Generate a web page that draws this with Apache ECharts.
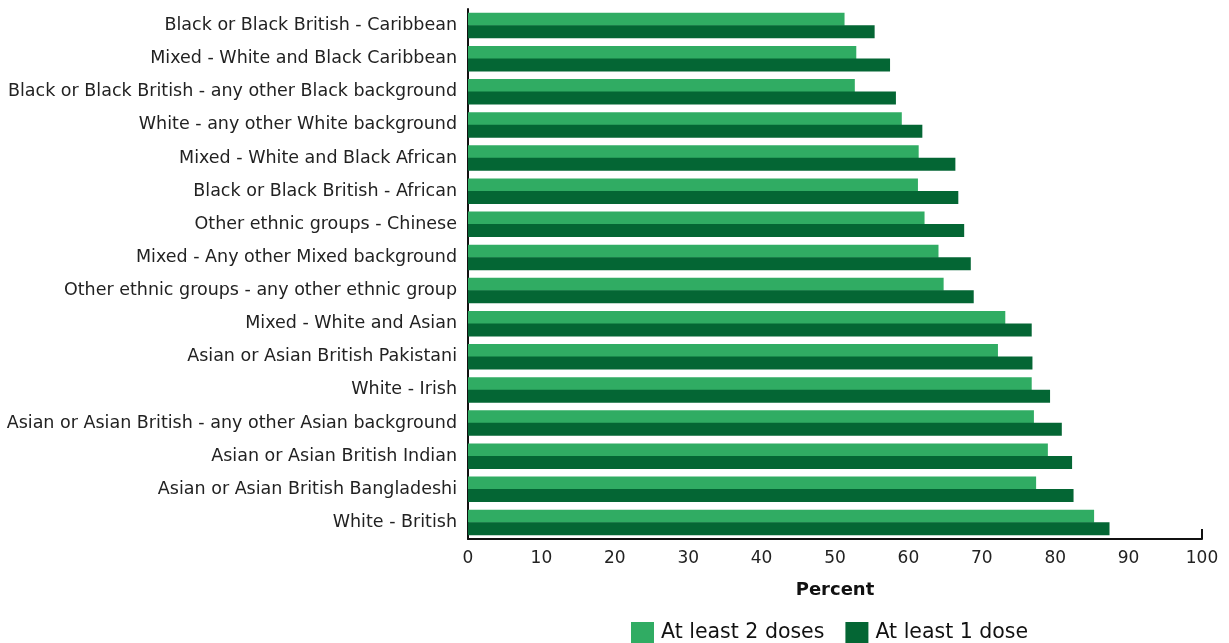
<!DOCTYPE html>
<html>
<head>
<meta charset="utf-8">
<script src="https://cdn.jsdelivr.net/npm/echarts@6/dist/echarts.min.js"></script>
<style>html,body{margin:0;padding:0;background:#fff;}#c{width:1229px;height:643px;}</style>
</head>
<body>
<div id="c"></div>
<script>
const categories = [
  "Black or Black British - Caribbean",
  "Mixed - White and Black Caribbean",
  "Black or Black British - any other Black background",
  "White - any other White background",
  "Mixed - White and Black African",
  "Black or Black British - African",
  "Other ethnic groups - Chinese",
  "Mixed - Any other Mixed background",
  "Other ethnic groups - any other ethnic group",
  "Mixed - White and Asian",
  "Asian or Asian British Pakistani",
  "White - Irish",
  "Asian or Asian British - any other Asian background",
  "Asian or Asian British Indian",
  "Asian or Asian British Bangladeshi",
  "White - British"
];
const twoDoses = [51.3, 52.9, 52.7, 59.1, 61.4, 61.3, 62.2, 64.1, 64.8, 73.2, 72.2, 76.8, 77.1, 79.0, 77.4, 85.3];
const oneDose  = [55.4, 57.5, 58.3, 61.9, 66.4, 66.8, 67.6, 68.5, 68.9, 76.8, 76.9, 79.3, 80.9, 82.3, 82.5, 87.4];
const seriesNames = ["At least 2 doses", "At least 1 dose"];
const xTicks = [0, 10, 20, 30, 40, 50, 60, 70, 80, 90, 100];

const FONT = "'DejaVu Sans', sans-serif";
const chart = echarts.init(document.getElementById('c'));
const option = {
  animation: false,
  backgroundColor: '#ffffff',
  textStyle: { fontFamily: FONT },
  grid: { left: 468, right: 27, top: 9, bottom: 104, containLabel: false },
  legend: {
    data: seriesNames,
    left: 626, top: 617,
    itemWidth: 23, itemHeight: 22, itemGap: 21,
    icon: 'rect',
    textStyle: { fontSize: 20.5, color: '#111', fontFamily: FONT, padding: [0, 0, 0, 2] }
  },
  xAxis: {
    type: 'value', min: xTicks[0], max: xTicks[xTicks.length - 1], interval: 10,
    name: 'Percent', nameLocation: 'middle', nameGap: 42,
    nameTextStyle: { fontSize: 18, fontWeight: 'bold', color: '#111', fontFamily: FONT },
    axisLine: { show: true, lineStyle: { color: '#111', width: 2 } },
    axisTick: { show: false },
    splitLine: { show: false },
    axisLabel: { fontSize: 17, color: '#222', margin: 11, fontFamily: FONT }
  },
  yAxis: {
    type: 'category', data: categories, inverse: true,
    axisLine: { show: true, lineStyle: { color: '#111', width: 2 } },
    axisTick: { show: false },
    axisLabel: { fontSize: 17.5, color: '#222', margin: 11, fontFamily: FONT }
  },
  series: [
    { name: seriesNames[0], type: 'bar', data: twoDoses, barWidth: 13, barGap: '-4%',
      itemStyle: { color: '#30AC63' } },
    { name: seriesNames[1], type: 'bar', data: oneDose, barWidth: 13, barGap: '-4%',
      itemStyle: { color: '#046634' } }
  ]
};
chart.setOption(option);
const p = chart.convertToPixel({ gridIndex: 0 }, [xTicks[xTicks.length - 1], categories[categories.length - 1]]);
const rect = chart.getModel().getComponent('grid', 0).coordinateSystem.getRect();
const bottomY = rect.y + rect.height;
chart.setOption({
  graphic: [{ type: 'line', shape: { x1: p[0], y1: bottomY, x2: p[0], y2: bottomY - 10 }, style: { stroke: '#111', lineWidth: 2 } }]
});
</script>
</body>
</html>
